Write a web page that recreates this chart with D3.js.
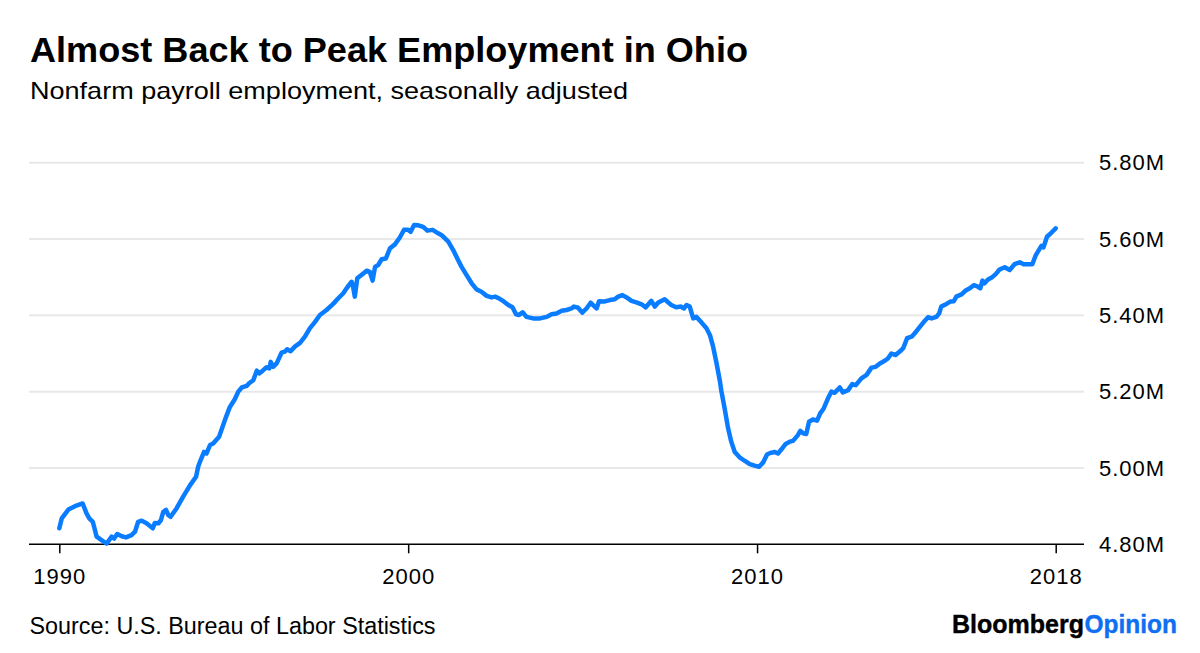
<!DOCTYPE html>
<html>
<head>
<meta charset="utf-8">
<script src="https://cdn.jsdelivr.net/npm/d3@7"></script>
<style>
  html, body { margin: 0; padding: 0; background: #fff; }
  svg { display: block; }
  text { font-family: "Liberation Sans", Arial, Helvetica, sans-serif; fill: #000; }
</style>
</head>
<body>
<svg id="chart" width="1200" height="653"></svg>
<script>
// ---- Data (Ohio nonfarm payroll employment, millions) ----
const years = [
  1990.00,1990.07,1990.26,1990.45,1990.67,1990.78,1990.86,1990.96,1991.07,1991.21,
  1991.36,1991.50,1991.57,1991.66,1991.79,1991.91,1992.07,1992.17,1992.26,1992.36,
  1992.50,1992.68,1992.74,1992.84,1992.91,1992.98,1993.06,1993.12,1993.19,1993.36,
  1993.55,1993.75,1993.92,1993.98,1994.03,1994.15,1994.22,1994.32,1994.41,1994.58,
  1994.68,1994.78,1994.89,1995.03,1995.13,1995.23,1995.37,1995.44,1995.56,1995.66,
  1995.73,1995.83,1995.94,1996.02,1996.06,1996.13,1996.23,1996.37,1996.47,1996.53,
  1996.63,1996.75,1996.90,1997.04,1997.18,1997.33,1997.47,1997.66,1997.85,1997.99,
  1998.14,1998.25,1998.38,1998.42,1998.47,1998.54,1998.66,1998.81,1998.90,1998.98,
  1999.05,1999.14,1999.24,1999.36,1999.48,1999.62,1999.76,1999.88,2000.00,2000.07,
  2000.17,2000.29,2000.43,2000.55,2000.70,2000.86,2000.96,2001.15,2001.29,2001.43,
  2001.53,2001.67,2001.82,2001.96,2002.10,2002.25,2002.39,2002.49,2002.61,2002.73,
  2002.87,2002.99,2003.09,2003.18,2003.28,2003.39,2003.58,2003.78,2003.97,2004.11,
  2004.25,2004.40,2004.54,2004.68,2004.75,2004.87,2004.99,2005.11,2005.23,2005.30,
  2005.40,2005.47,2005.61,2005.78,2005.92,2006.02,2006.14,2006.26,2006.40,2006.54,
  2006.69,2006.81,2006.97,2007.07,2007.16,2007.35,2007.54,2007.68,2007.82,2007.90,
  2007.98,2008.07,2008.17,2008.26,2008.41,2008.55,2008.65,2008.74,2008.84,2008.93,
  2008.98,2009.07,2009.17,2009.26,2009.36,2009.50,2009.64,2009.79,2009.93,2010.06,
  2010.17,2010.29,2010.41,2010.51,2010.60,2010.70,2010.82,2010.94,2011.03,2011.17,
  2011.24,2011.32,2011.41,2011.49,2011.60,2011.72,2011.81,2011.91,2012.03,2012.13,
  2012.22,2012.37,2012.46,2012.61,2012.73,2012.83,2012.99,2013.14,2013.28,2013.40,
  2013.52,2013.66,2013.75,2013.85,2013.97,2014.09,2014.19,2014.30,2014.43,2014.52,
  2014.66,2014.81,2014.90,2015.00,2015.14,2015.22,2015.28,2015.43,2015.54,2015.64,
  2015.71,2015.86,2015.98,2016.10,2016.21,2016.33,2016.40,2016.46,2016.52,2016.62,
  2016.74,2016.84,2016.95,2017.10,2017.24,2017.38,2017.53,2017.64,2017.77,2017.89,
  2017.99,2018.15,2018.21,2018.31,2018.44,2018.56
];
const employment = [
  4.842,4.868,4.891,4.900,4.907,4.881,4.868,4.859,4.820,4.811,
  4.802,4.820,4.815,4.827,4.821,4.818,4.824,4.833,4.859,4.862,
  4.855,4.842,4.856,4.855,4.863,4.885,4.890,4.877,4.872,4.894,
  4.925,4.955,4.977,5.003,5.016,5.042,5.038,5.060,5.064,5.082,
  5.108,5.134,5.160,5.180,5.200,5.211,5.215,5.222,5.230,5.255,
  5.248,5.255,5.264,5.261,5.278,5.265,5.274,5.302,5.305,5.311,
  5.306,5.318,5.328,5.344,5.366,5.383,5.401,5.414,5.430,5.444,
  5.458,5.473,5.488,5.475,5.449,5.497,5.506,5.517,5.514,5.491,
  5.527,5.532,5.547,5.549,5.576,5.586,5.604,5.624,5.624,5.619,
  5.637,5.636,5.632,5.622,5.624,5.615,5.610,5.593,5.571,5.545,
  5.527,5.506,5.484,5.468,5.462,5.451,5.447,5.449,5.444,5.437,
  5.427,5.421,5.403,5.401,5.408,5.396,5.392,5.392,5.396,5.403,
  5.405,5.412,5.414,5.418,5.423,5.420,5.407,5.418,5.433,5.427,
  5.418,5.437,5.436,5.440,5.442,5.449,5.453,5.447,5.438,5.434,
  5.429,5.421,5.438,5.423,5.433,5.442,5.427,5.421,5.423,5.418,
  5.427,5.423,5.392,5.396,5.381,5.366,5.348,5.318,5.274,5.230,
  5.200,5.156,5.104,5.069,5.042,5.028,5.019,5.010,5.006,5.003,
  5.014,5.036,5.040,5.042,5.038,5.049,5.063,5.069,5.071,5.086,
  5.097,5.091,5.089,5.121,5.127,5.124,5.143,5.156,5.182,5.200,
  5.197,5.211,5.198,5.204,5.220,5.217,5.235,5.244,5.263,5.265,
  5.274,5.281,5.287,5.300,5.296,5.305,5.314,5.340,5.344,5.353,
  5.369,5.386,5.395,5.392,5.396,5.405,5.423,5.430,5.436,5.437,
  5.449,5.455,5.465,5.471,5.479,5.475,5.471,5.491,5.484,5.494,
  5.500,5.508,5.520,5.526,5.519,5.534,5.539,5.534,5.534,5.534,
  5.558,5.582,5.578,5.606,5.617,5.628
];
const yTicks = [4.8, 5.0, 5.2, 5.4, 5.6, 5.8];
const yTickLabels = ["4.80M", "5.00M", "5.20M", "5.40M", "5.60M", "5.80M"];
const xTickYears = [1990, 2000, 2010, years[years.length - 1]];
const xTickLabels = ["1990", "2000", "2010", "2018"];

const title = "Almost Back to Peak Employment in Ohio";
const subtitle = "Nonfarm payroll employment, seasonally adjusted";
const source = "Source: U.S. Bureau of Labor Statistics";

// ---- Layout ----
const svg = d3.select("#chart");
const plotLeft = 29, plotRight = 1084;
const x = d3.scaleLinear()
  .domain([years[0], years[years.length - 1]])
  .range([59.3, 1055.7]);
const y = d3.scaleLinear()
  .domain([4.8, 5.8])
  .range([544.3, 162.7]);

// gridlines
svg.append("g")
  .selectAll("line")
  .data(yTicks.filter(d => d !== yTicks[0]))
  .join("line")
  .attr("x1", plotLeft).attr("x2", plotRight)
  .attr("y1", d => y(d)).attr("y2", d => y(d))
  .attr("stroke", "#e8e8e8")
  .attr("stroke-width", 2);

// x axis
const xAxis = d3.axisBottom(x)
  .tickValues(xTickYears)
  .tickFormat((d, i) => xTickLabels[i])
  .tickSize(9)
  .tickSizeOuter(0)
  .tickPadding(15);
const gx = svg.append("g")
  .attr("transform", `translate(0,${y(4.8)})`)
  .call(xAxis);
gx.select(".domain").remove();
gx.selectAll(".tick line").attr("stroke", "#000").attr("stroke-width", 1.5);
gx.selectAll(".tick text")
  .attr("fill", "#000")
  .style("font-size", "22px")
  .style("letter-spacing", "1px")
  .style("font-family", "'Liberation Sans', Arial, sans-serif");

svg.append("line")
  .attr("x1", plotLeft).attr("x2", plotRight)
  .attr("y1", y(4.8)).attr("y2", y(4.8))
  .attr("stroke", "#000")
  .attr("stroke-width", 1.5);

// y axis (labels on right)
const yAxis = d3.axisRight(y)
  .tickValues(yTicks)
  .tickFormat((d, i) => yTickLabels[i])
  .tickSize(0)
  .tickPadding(15);
const gy = svg.append("g")
  .attr("transform", `translate(${plotRight},0)`)
  .call(yAxis);
gy.select(".domain").remove();
gy.selectAll(".tick text")
  .attr("fill", "#000")
  .style("font-size", "22px")
  .style("letter-spacing", "1px")
  .style("font-family", "'Liberation Sans', Arial, sans-serif");

// line
const lineGen = d3.line()
  .x((d, i) => x(years[i]))
  .y(d => y(d));
svg.append("path")
  .datum(employment)
  .attr("d", lineGen)
  .attr("fill", "none")
  .attr("stroke", "#0a7cff")
  .attr("stroke-width", 4.5)
  .attr("stroke-linejoin", "round")
  .attr("stroke-linecap", "round");

// titles
svg.append("text")
  .attr("x", 30).attr("y", 61.7)
  .attr("textLength", 718).attr("lengthAdjust", "spacingAndGlyphs")
  .style("font-size", "35px").style("font-weight", "bold")
  .text(title);
svg.append("text")
  .attr("x", 30).attr("y", 99)
  .attr("textLength", 598).attr("lengthAdjust", "spacingAndGlyphs")
  .style("font-size", "24px")
  .text(subtitle);

// footer
svg.append("text")
  .attr("x", 29.5).attr("y", 634)
  .attr("textLength", 406).attr("lengthAdjust", "spacingAndGlyphs")
  .style("font-size", "23.5px")
  .text(source);

const logo = svg.append("g");
logo.append("text")
  .attr("x", 952).attr("y", 633.3)
  .attr("textLength", 132).attr("lengthAdjust", "spacingAndGlyphs")
  .style("font-size", "25px").style("font-weight", "bold")
  .attr("stroke", "#000").attr("stroke-width", 0.4)
  .text("Bloomberg");
logo.append("text")
  .attr("x", 1084.5).attr("y", 633.3)
  .attr("textLength", 92.5).attr("lengthAdjust", "spacingAndGlyphs")
  .style("font-size", "25px").style("font-weight", "bold")
  .style("fill", "#0e6ff2")
  .attr("stroke", "#0e6ff2").attr("stroke-width", 0.4)
  .text("Opinion");
</script>
</body>
</html>
